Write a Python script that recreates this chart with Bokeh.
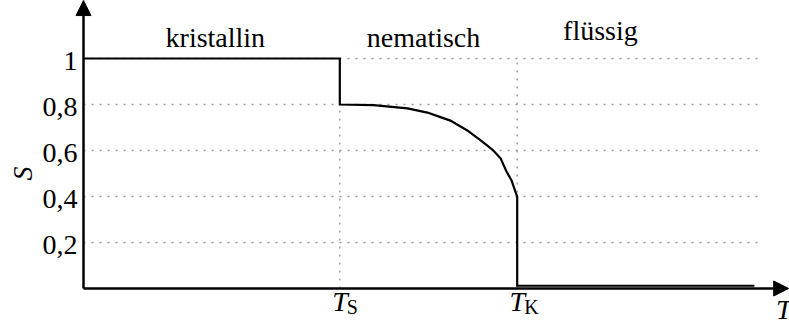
import math

from bokeh.core.properties import value
from bokeh.embed import file_html
from bokeh.models import Arrow, NormalHead, Range1d
from bokeh.plotting import figure
from bokeh.resources import INLINE

# --- data: order parameter S versus temperature T (T in units of T_K) ---
T_S = 0.591  # crystal -> nematic transition
T_K = 1.0    # nematic -> isotropic (clearing point)

cryst_T = [0.0, T_S]
cryst_S = [1.0, 1.0]

nem_T = [T_S, 0.669, 0.747, 0.793, 0.823, 0.846, 0.885, 0.915, 0.932,
         0.945, 0.962, 0.975, 0.987, 0.996, T_K]
nem_S = [0.80, 0.797, 0.783, 0.765, 0.745, 0.730, 0.687, 0.645, 0.62,
         0.60, 0.565, 0.51, 0.47, 0.42, 0.40]

liq_T = [T_K, 1.547]
liq_S = [0.012, 0.012]

y_ticks = [0.2, 0.4, 0.6, 0.8, 1.0]
y_tick_labels = ["0,2", "0,4", "0,6", "0,8", "1"]

x_ticks = [T_S, T_K]
x_tick_main = ["T", "T"]
x_tick_sub = ["S", "K"]

phase_names = ["kristallin", "nematisch", "flüssig"]
phase_x = [0.304, 0.784, 1.192]
phase_y = [1.049, 1.049, 1.078]

# --- layout ---
X_MIN, X_MAX = -0.1914, 1.6279
Y_MIN, Y_MAX = -0.1522, 1.2522
GRID_END = 1.554
SERIF = value("Liberation Serif")
LIFT = -10  # baseline correction in screen pixels

p = figure(width=789, height=323, output_backend="svg", toolbar_location=None,
           x_range=Range1d(X_MIN, X_MAX), y_range=Range1d(Y_MIN, Y_MAX),
           x_axis_location=None, y_axis_location=None, min_border=0)
p.grid.visible = False
p.outline_line_color = None
p.background_fill_color = "white"
p.border_fill_color = "white"

# dotted guide lines
grid_col = "#9a9a9a"
p.segment(x0=[0.0] * len(y_ticks), y0=y_ticks, x1=[GRID_END] * len(y_ticks), y1=y_ticks,
          line_color=grid_col, line_width=1.4, line_dash="2 6")
p.segment(x0=x_ticks, y0=[0.0] * len(x_ticks), x1=x_ticks, y1=[1.0] * len(x_ticks),
          line_color=grid_col, line_width=1.4, line_dash="2 6")

# the S(T) curve, crystal plateau -> nematic branch -> isotropic liquid
curve_T = cryst_T + nem_T + liq_T
curve_S = cryst_S + nem_S + liq_S
p.line(curve_T, curve_S, line_color="black", line_width=2.2, line_join="miter")

# axes with arrow heads
def head():
    return NormalHead(size=15, fill_color="black", line_color="black", line_width=1)

p.add_layout(Arrow(end=head(), x_start=0.0, y_start=0.0, x_end=0.0, y_end=1.252,
                   line_width=2.5, line_color="black"))
p.add_layout(Arrow(end=head(), x_start=0.0, y_start=0.0, x_end=1.626, y_end=0.0,
                   line_width=2.5, line_color="black"))

# y tick labels
p.text(x=[0.0] * len(y_ticks), y=y_ticks, text=y_tick_labels, text_font=SERIF,
       text_font_size="28px", text_align="right", text_baseline="alphabetic",
       x_offset=-6, y_offset=12.5 + LIFT, text_color="black")

# x tick labels: italic T with upright subscript
p.text(x=x_ticks, y=[-0.1] * len(x_ticks), text=x_tick_main, text_font=SERIF,
       text_font_style="italic", text_font_size="28px", text_align="right",
       text_baseline="alphabetic", x_offset=8, y_offset=LIFT, text_color="black")
p.text(x=x_ticks, y=[-0.1] * len(x_ticks), text=x_tick_sub, text_font=SERIF,
       text_font_size="20px", text_align="left", text_baseline="alphabetic",
       x_offset=7, y_offset=6 + LIFT, text_color="black")

# axis titles
p.text(x=[-0.1407], y=[0.50], text=["S"], text_font=SERIF, text_font_style="italic",
       text_font_size="28px", text_align="center", text_baseline="middle",
       angle=math.pi / 2, text_color="black")
p.text(x=[1.597], y=[-0.135], text=["T"], text_font=SERIF, text_font_style="italic",
       text_font_size="28px", text_align="left", text_baseline="alphabetic",
       y_offset=LIFT, text_color="black")

# phase names
p.text(x=phase_x, y=phase_y, text=phase_names, text_font=SERIF, text_font_size="28px",
       text_align="center", text_baseline="alphabetic", y_offset=LIFT, text_color="black")

open("out.html", "w").write(file_html(p, INLINE))
